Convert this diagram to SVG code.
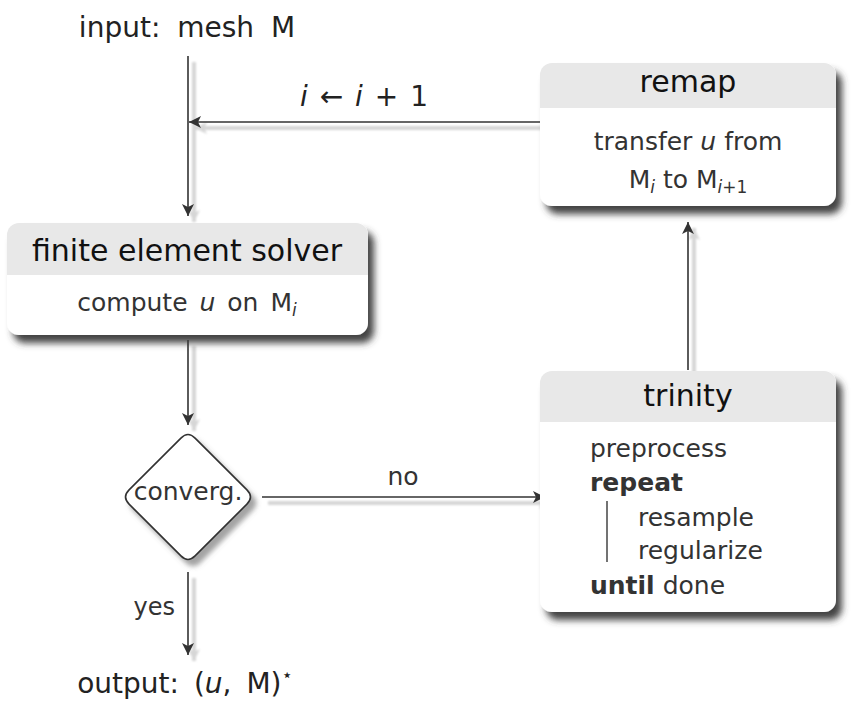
<svg xmlns="http://www.w3.org/2000/svg" width="864" height="722" viewBox="0 0 864 722">
<defs>
<filter id="nsh" x="-10%" y="-10%" width="130%" height="145%">
<feGaussianBlur in="SourceAlpha" stdDeviation="3.5"/>
<feOffset dx="6" dy="8" result="b"/>
<feFlood flood-color="#3a3a3a" flood-opacity="0.95"/>
<feComposite in2="b" operator="in"/>
<feMerge><feMergeNode/><feMergeNode in="SourceGraphic"/></feMerge>
</filter>
<filter id="dsh" x="-20%" y="-20%" width="150%" height="150%">
<feGaussianBlur in="SourceAlpha" stdDeviation="2.5"/>
<feOffset dx="5" dy="6" result="b"/>
<feFlood flood-color="#666" flood-opacity="0.6"/>
<feComposite in2="b" operator="in"/>
<feMerge><feMergeNode/><feMergeNode in="SourceGraphic"/></feMerge>
</filter>
<filter id="lsb"><feGaussianBlur stdDeviation="0.8"/></filter>
<marker id="ah" markerUnits="userSpaceOnUse" markerWidth="14" markerHeight="12" refX="12" refY="6" orient="auto">
<path d="M0,0 L12,6 L0,12 L3,6 Z" fill="#333"/>
</marker>
<marker id="ahs" markerUnits="userSpaceOnUse" markerWidth="14" markerHeight="12" refX="12" refY="6" orient="auto">
<path d="M0,0 L12,6 L0,12 L3,6 Z" fill="#d6d6d6"/>
</marker>
</defs>
<style>
text{font-family:"DejaVu Sans","Liberation Sans",sans-serif;fill:#222}
.t{font-size:30px;fill:#111;text-anchor:middle}
.b{font-size:25px;fill:#333}
.m{text-anchor:middle}
.io{font-size:28px;fill:#222}
.c{stroke:#333;stroke-width:1.6;fill:none;marker-end:url(#ah)}
.cs{stroke:#d6d6d6;stroke-width:4;fill:none;marker-end:url(#ahs)}
.hd{fill:#e8e8e8}
.bx{fill:#fff}
</style>
<rect width="864" height="722" fill="#fff"/>

<g id="connectors">
<g filter="url(#lsb)">
<line class="cs" x1="194" y1="62" x2="194" y2="222"/>
<line class="cs" x1="551" y1="128" x2="195" y2="128"/>
<line class="cs" x1="194" y1="346" x2="194" y2="431"/>
<line class="cs" x1="268" y1="503" x2="551" y2="503"/>
<line class="cs" x1="694" y1="376" x2="694" y2="228"/>
<line class="cs" x1="194" y1="578" x2="194" y2="661"/>
</g>
<line class="c" x1="188" y1="56" x2="188" y2="216"/>
<line class="c" x1="545" y1="122" x2="189" y2="122"/>
<line class="c" x1="188" y1="340" x2="188" y2="425"/>
<line class="c" x1="262" y1="497" x2="545" y2="497"/>
<line class="c" x1="688" y1="370" x2="688" y2="222"/>
<line class="c" x1="188" y1="572" x2="188" y2="655"/>
<text x="364" y="106" style="font-size:28px;text-anchor:middle;word-spacing:3px"><tspan font-style="italic">i</tspan> ← <tspan font-style="italic">i</tspan> + 1</text>
<text x="403" y="485" class="b m">no</text>
<text x="175" y="615" class="b" style="text-anchor:end;font-size:24px">yes</text>
</g>

<g id="input">
<text x="187" y="37" class="io m" style="word-spacing:8px">input: mesh M</text>
</g>

<g id="output">
<text x="185" y="693" class="io m" style="word-spacing:6px">output: (<tspan font-style="italic">u</tspan>, M)<tspan font-size="18" dy="-12">⋆</tspan></text>
</g>

<g id="fe-solver">
<g filter="url(#nsh)">
<rect class="bx" x="7" y="223" width="361" height="112" rx="12"/>
</g>
<path class="hd" d="M7,275 V235 A12,12 0 0 1 19,223 H356 A12,12 0 0 1 368,235 V275 Z"/>
<text x="187" y="261" class="t">finite element solver</text>
<text x="187" y="311" class="b m" style="word-spacing:4px">compute <tspan font-style="italic">u</tspan> on M<tspan font-size="17" font-style="italic" dy="5">i</tspan></text>
</g>

<g id="remap">
<g filter="url(#nsh)">
<rect class="bx" x="540" y="63" width="296" height="143" rx="12"/>
</g>
<path class="hd" d="M540,108 V75 A12,12 0 0 1 552,63 H824 A12,12 0 0 1 836,75 V108 Z"/>
<text x="688" y="92" class="t">remap</text>
<text x="688" y="150" class="b m">transfer <tspan font-style="italic">u</tspan> from</text>
<text x="688" y="188" class="b m">M<tspan font-size="17" font-style="italic" dy="5">i</tspan><tspan dy="-5"> to M</tspan><tspan font-size="17" dy="5"><tspan font-style="italic">i</tspan>+1</tspan></text>
</g>

<g id="trinity">
<g filter="url(#nsh)">
<rect class="bx" x="540" y="371" width="296" height="241" rx="12"/>
</g>
<path class="hd" d="M540,422 V383 A12,12 0 0 1 552,371 H824 A12,12 0 0 1 836,383 V422 Z"/>
<text x="688" y="406" class="t">trinity</text>
<text x="590" y="457" class="b">preprocess</text>
<text x="590" y="491" class="b" font-weight="bold">repeat</text>
<line x1="607" y1="501" x2="607" y2="562" stroke="#444" stroke-width="1.5"/>
<text x="638" y="526" class="b">resample</text>
<text x="638" y="559" class="b">regularize</text>
<text x="590" y="594" class="b"><tspan font-weight="bold">until</tspan> done</text>
</g>

<g id="converg">
<path filter="url(#dsh)" d="M195.07,438.07 L246.93,489.93 Q254,497 246.93,504.07 L195.07,555.93 Q188,563 180.93,555.93 L129.07,504.07 Q122,497 129.07,489.93 L180.93,438.07 Q188,431 195.07,438.07 Z" fill="#fff" stroke="#333" stroke-width="1.6"/>
<text x="188" y="500" class="b m">converg.</text>
</g>
</svg>
